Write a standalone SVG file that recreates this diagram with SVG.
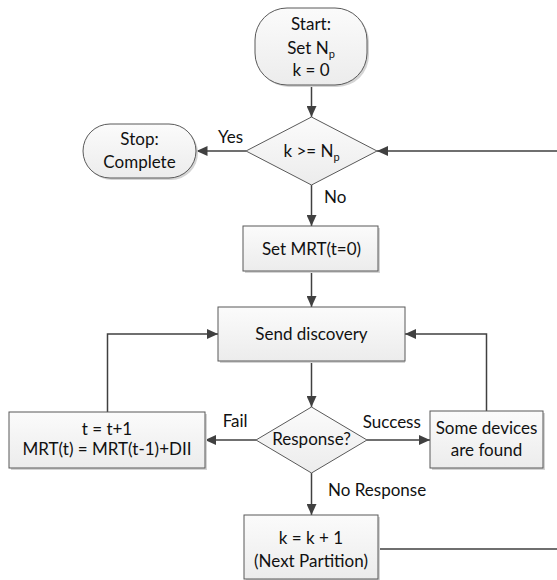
<svg xmlns="http://www.w3.org/2000/svg" width="557" height="580" viewBox="0 0 557 580">
<defs>
<linearGradient id="g" x1="0" y1="0" x2="0" y2="1">
<stop offset="0" stop-color="#fbfbfb"/>
<stop offset="1" stop-color="#ececec"/>
</linearGradient>
<marker id="a" markerUnits="userSpaceOnUse" markerWidth="12" markerHeight="10" refX="11" refY="5" orient="auto">
<path d="M0,0 L11,5 L0,10 z" fill="#404040"/>
</marker>
</defs>
<style>
.n{fill:url(#g);stroke:#595959;stroke-width:1}
.sh{fill:#d4d4d4}
.c{fill:none;stroke:#404040;stroke-width:1.5;marker-end:url(#a)}
.cn{fill:none;stroke:#404040;stroke-width:1.5}
text{font-family:Lato,"Open Sans","Liberation Sans",sans-serif;font-size:17px;fill:#111}
.m{text-anchor:middle}
.s{font-size:11px}
</style>
<rect width="557" height="580" fill="#fff"/>
<g id="connectors">
<path class="c" d="M311.5,85 V117"/>
<path class="c" d="M246,151 H196.5"/>
<path class="c" d="M311.5,185 V226"/>
<path class="c" d="M311.5,271 V307"/>
<path class="c" d="M311.5,361 V407"/>
<path class="c" d="M256,440 H205"/>
<path class="c" d="M367,440 H430"/>
<path class="c" d="M107.5,412 V334 H218"/>
<path class="c" d="M486.5,411 V334 H405"/>
<path class="c" d="M311.5,473 V515"/>
<path class="c" d="M378,549 H560 V151 H377"/>
</g>
<g id="start">
<rect class="sh" x="257" y="10" width="112" height="77" rx="32"/>
<rect class="n" x="255" y="8" width="112" height="77" rx="32"/>
<text class="m" x="311" y="30">Start:</text>
<text class="m" x="311" y="54">Set N<tspan class="s" dy="4">p</tspan></text>
<text class="m" x="311" y="76">k = 0</text>
</g>
<g id="decision-k">
<polygon class="n" points="311.5,117 377,151 311.5,185 246,151"/>
<text class="m" x="311.5" y="157">k &gt;= N<tspan class="s" dy="4">p</tspan></text>
</g>
<g id="stop">
<rect class="sh" x="85" y="126" width="113" height="54" rx="27"/>
<rect class="n" x="83" y="124" width="113" height="54" rx="27"/>
<text class="m" x="139.5" y="145">Stop:</text>
<text class="m" x="139.5" y="168">Complete</text>
</g>
<g id="labels">
<text x="218" y="143">Yes</text>
<text x="324" y="203">No</text>
<text x="222.7" y="427">Fail</text>
<text x="362.7" y="428">Success</text>
<text x="328" y="496">No Response</text>
</g>
<g id="set-mrt">
<rect class="sh" x="245" y="228" width="135" height="45"/>
<rect class="n" x="243" y="226" width="135" height="45"/>
<text class="m" x="311.5" y="255">Set MRT(t=0)</text>
</g>
<g id="send-discovery">
<rect class="sh" x="220" y="309" width="185" height="54"/>
<rect class="n" x="218" y="307" width="187" height="54"/>
<text class="m" x="311.5" y="340">Send discovery</text>
</g>
<g id="update-t">
<rect class="sh" x="11" y="414" width="196" height="56"/>
<rect class="n" x="9" y="412" width="196" height="56"/>
<text class="m" x="107" y="435">t = t+1</text>
<text class="m" x="107" y="455">MRT(t) = MRT(t-1)+DII</text>
</g>
<g id="decision-response">
<polygon class="n" points="311.5,407 367,440 311.5,473 256,440"/>
<text class="m" x="311.5" y="445">Response?</text>
</g>
<g id="found">
<rect class="sh" x="432" y="413" width="113" height="57"/>
<rect class="n" x="430" y="411" width="113" height="57"/>
<text class="m" x="486.5" y="434">Some devices</text>
<text class="m" x="486.5" y="456">are found</text>
</g>
<g id="next-partition">
<rect class="sh" x="246" y="517" width="134" height="64"/>
<rect class="n" x="244" y="515" width="134" height="64"/>
<text class="m" x="311" y="544">k = k + 1</text>
<text class="m" x="311" y="567">(Next Partition)</text>
</g>
</svg>
